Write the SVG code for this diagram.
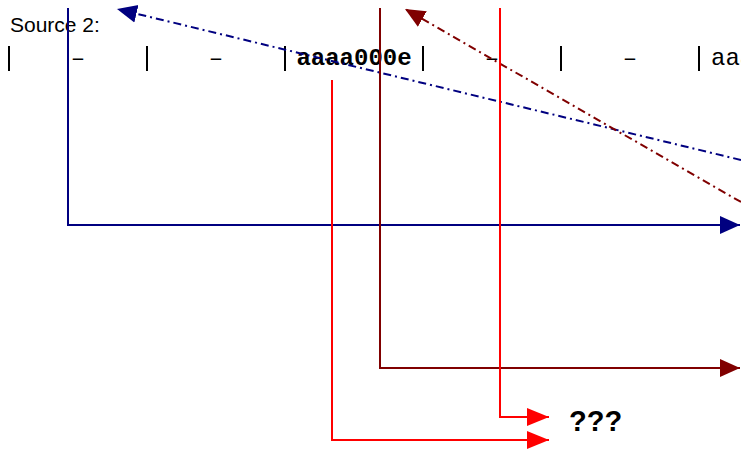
<svg xmlns="http://www.w3.org/2000/svg" width="741" height="452" viewBox="0 0 741 452">
  <style>
    .label { font-family: "Liberation Sans", Arial, sans-serif; font-size: 21px; fill: #000; }
    .cell { font-family: "Liberation Mono", "Courier New", monospace; font-size: 24px; fill: #000; text-anchor: middle; }
    .cell-bold { font-weight: bold; }
    .sep { stroke: #000; stroke-width: 2; }
    .wire { fill: none; stroke-width: 2; }
    .dashdot { stroke-dasharray: 8 4 2 4; }
    .navy { stroke: #000080; }
    .maroon { stroke: #800000; }
    .red { stroke: #ff0000; }
    .qq { font-family: "Liberation Sans", Arial, sans-serif; font-size: 29px; font-weight: bold; fill: #000; }
  </style>
  <defs>
    <marker id="arrow-navy" markerUnits="userSpaceOnUse" markerWidth="20" markerHeight="20" refX="20" refY="10" orient="auto">
      <path d="M0,1 L20,10 L0,19 Z" fill="#000080"/>
    </marker>
    <marker id="arrow-maroon" markerUnits="userSpaceOnUse" markerWidth="20" markerHeight="20" refX="20" refY="10" orient="auto">
      <path d="M0,1 L20,10 L0,19 Z" fill="#800000"/>
    </marker>
    <marker id="arrow-red" markerUnits="userSpaceOnUse" markerWidth="22" markerHeight="20" refX="22" refY="10" orient="auto">
      <path d="M0,1 L22,10 L0,19 Z" fill="#ff0000"/>
    </marker>
  </defs>

  <rect width="741" height="452" fill="#ffffff"/>

  <g id="source-label">
    <text class="label" x="10" y="32">Source 2:</text>
  </g>

  <!-- memory row: separators and cell contents -->
  <g id="cells">
    <g id="separators">
      <line class="sep" x1="9" y1="46" x2="9" y2="71"/>
      <line class="sep" x1="147" y1="46" x2="147" y2="71"/>
      <line class="sep" x1="285" y1="46" x2="285" y2="71"/>
      <line class="sep" x1="423" y1="46" x2="423" y2="71"/>
      <line class="sep" x1="561" y1="46" x2="561" y2="71"/>
      <line class="sep" x1="699" y1="46" x2="699" y2="71"/>
    </g>
    <g id="cell-0"><text class="cell" x="78" y="65">–</text></g>
    <g id="cell-1"><text class="cell" x="216" y="65">–</text></g>
    <g id="cell-2"><text class="cell cell-bold" x="354" y="65">aaaa000e</text></g>
    <g id="cell-3"><text class="cell" x="492" y="65">–</text></g>
    <g id="cell-4"><text class="cell" x="630" y="65">–</text></g>
    <g id="cell-5"><text class="cell" x="711" y="65" style="text-anchor:start">aaa</text></g>
  </g>

  <g id="result-label">
    <text class="qq" x="569" y="431">???</text>
  </g>

  <g id="connectors">
    <path class="wire navy" d="M68,8 V225 H740" marker-end="url(#arrow-navy)"/>
    <path class="wire navy dashdot" d="M741,160 L117,9" marker-end="url(#arrow-navy)"/>
    <path class="wire maroon" d="M380,8 V368 H740" marker-end="url(#arrow-maroon)"/>
    <path class="wire maroon dashdot" d="M741,202 L405,9" marker-end="url(#arrow-maroon)"/>
    <path class="wire red" d="M500,8 V417 H549" marker-end="url(#arrow-red)"/>
    <path class="wire red" d="M332,80 V440 H549" marker-end="url(#arrow-red)"/>
  </g>
</svg>
